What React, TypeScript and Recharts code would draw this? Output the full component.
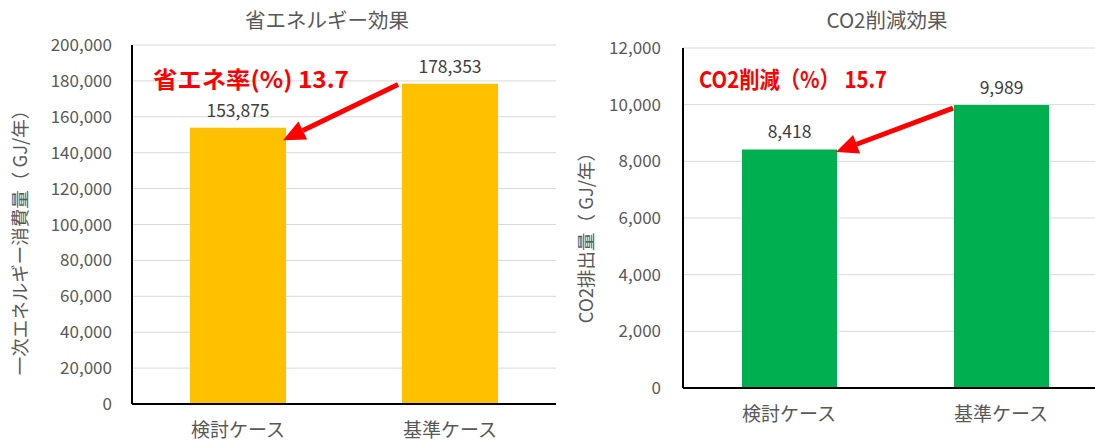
import React from 'react';
import { BarChart, Bar, XAxis, YAxis, CartesianGrid, LabelList, ReferenceLine, ReferenceDot } from 'recharts';

const categories = ['検討ケース', '基準ケース'];
const energyValues = [153875, 178353];
const co2Values = [8418, 9989];
const energyTicks = [0, 20000, 40000, 60000, 80000, 100000, 120000, 140000, 160000, 180000, 200000];
const co2Ticks = [0, 2000, 4000, 6000, 8000, 10000, 12000];
const energyTitle = '省エネルギー効果';
const co2Title = 'CO2削減効果';
const energyAxisLabel = '一次エネルギー消費量（ GJ/年）';
const co2AxisLabel = 'CO2排出量（ GJ/年）';
const energyNote = '省エネ率(%) 13.7';
const co2Note = 'CO2削減（%） 15.7';
const energyNoteAt = 181600;
const co2NoteAt = 10940;
const energyArrow = [178000, 147000];
const co2Arrow = [9880, 8330];

const energyData = categories.map((name, i) => ({ name, value: energyValues[i] }));
const co2Data = categories.map((name, i) => ({ name, value: co2Values[i] }));

const FONT = "'Noto Sans CJK JP', 'Noto Sans', sans-serif";
const GRAY = '#595959';
const fmt = (v: any) => Number(v).toLocaleString('en-US');
const AXIS_LINE = { stroke: '#000000', strokeWidth: 2 };

const arrowShape = (dxStart: number, dxEnd: number) => (p: any) => {
  const x1 = p.x1 + dxStart;
  const y1 = p.y1;
  const x2 = p.x2 + dxEnd;
  const y2 = p.y2;
  const a = Math.atan2(y2 - y1, x2 - x1);
  const headLen = 22;
  const headW = 10;
  const bx = x2 - headLen * Math.cos(a);
  const by = y2 - headLen * Math.sin(a);
  const px = -Math.sin(a) * headW;
  const py = Math.cos(a) * headW;
  return (
    <g>
      <line x1={x1} y1={y1} x2={bx} y2={by} stroke="#FF0000" strokeWidth={5} />
      <polygon points={`${x2},${y2} ${bx + px},${by + py} ${bx - px},${by - py}`} fill="#FF0000" />
    </g>
  );
};

const noteLabel = (text: string, dx: number, len: number) => (props: any) => {
  const vb = props.viewBox || {};
  const cx = (vb.x ?? 0) + (vb.width ?? 0) / 2 + dx;
  const cy = (vb.y ?? 0) + (vb.height ?? 0) / 2;
  return (
    <text
      x={cx - len / 2}
      y={cy}
      dominantBaseline="central"
      fill="#FF0000"
      fontFamily={FONT}
      fontWeight="bold"
      fontSize={23}
      textLength={len}
      lengthAdjust="spacingAndGlyphs"
    >
      {text}
    </text>
  );
};

const axisTitle = (text: string, x: number, cy: number) => () => (
  <text
    x={x}
    y={cy}
    transform={`rotate(-90, ${x}, ${cy})`}
    textAnchor="middle"
    dominantBaseline="central"
    fill={GRAY}
    fontFamily={FONT}
    fontSize={18.5}
  >
    {text}
  </text>
);

const titleStyle = (left: number): React.CSSProperties => ({
  position: 'absolute',
  left,
  top: 5,
  width: 300,
  marginLeft: -150,
  textAlign: 'center',
  fontFamily: FONT,
  fontSize: 20.5,
  lineHeight: '28px',
  color: GRAY,
});

export default function App() {
  return (
    <div style={{ position: 'absolute', left: 0, top: 0, width: 1095, height: 442, overflow: 'hidden', background: '#fff' }}>
      <div style={titleStyle(327)}>{energyTitle}</div>
      <div style={titleStyle(887)}>{co2Title}</div>

      <div style={{ position: 'absolute', left: 0, top: 0 }}>
        <BarChart width={560} height={442} data={energyData} margin={{ top: 45, right: 4, bottom: 0, left: 0 }}>
          <CartesianGrid vertical={false} stroke="#d9d9d9" />
          <XAxis
            dataKey="name"
            height={38}
            tickLine={false}
            tickSize={0}
            tickMargin={20}
            stroke="#000000"
            axisLine={AXIS_LINE}
            tick={{ fill: GRAY, fontSize: 19, fontFamily: FONT }}
          />
          <XAxis xAxisId="top" dataKey="name" orientation="top" height={0} tick={false} tickLine={false} stroke="#000000" axisLine={AXIS_LINE} />
          <YAxis
            width={132}
            domain={[0, 200000]}
            ticks={energyTicks}
            tickFormatter={fmt}
            tickLine={false}
            tickSize={0}
            tickMargin={20}
            stroke="#000000"
            axisLine={AXIS_LINE}
            tick={{ fill: GRAY, fontSize: 17, fontFamily: FONT }}
            label={{ content: axisTitle(energyAxisLabel, 19, 238) }}
          />
          <YAxis yAxisId="right" orientation="right" width={0} domain={[0, 200000]} tick={false} tickLine={false} stroke="#000000" axisLine={AXIS_LINE} />
          <Bar dataKey="value" fill="#FFC000" barSize={96} isAnimationActive={false}>
            <LabelList dataKey="value" position="top" offset={11} formatter={fmt} fill="#404040" fontSize={17.5} fontFamily={FONT} />
          </Bar>
          <ReferenceLine
            segment={[{ x: categories[1], y: energyArrow[0] }, { x: categories[0], y: energyArrow[1] }]}
            shape={arrowShape(-52, 45)}
            ifOverflow="visible"
          />
          <ReferenceDot x={categories[0]} y={energyNoteAt} r={0} fill="none" stroke="none" ifOverflow="visible" label={{ content: noteLabel(energyNote, 13, 196) }} />
        </BarChart>
      </div>

      <div style={{ position: 'absolute', left: 560, top: 0 }}>
        <BarChart width={560} height={442} data={co2Data} margin={{ top: 48, right: 13, bottom: 0, left: 0 }}>
          <CartesianGrid vertical={false} stroke="#d9d9d9" />
          <XAxis
            dataKey="name"
            height={54}
            tickLine={false}
            tickSize={0}
            tickMargin={20}
            stroke="#000000"
            axisLine={AXIS_LINE}
            tick={{ fill: GRAY, fontSize: 19, fontFamily: FONT }}
          />
          <XAxis xAxisId="top" dataKey="name" orientation="top" height={0} tick={false} tickLine={false} stroke="#000000" axisLine={AXIS_LINE} />
          <YAxis
            width={123}
            domain={[0, 12000]}
            ticks={co2Ticks}
            tickFormatter={fmt}
            tickLine={false}
            tickSize={0}
            tickMargin={22}
            stroke="#000000"
            axisLine={AXIS_LINE}
            tick={{ fill: GRAY, fontSize: 17, fontFamily: FONT }}
            label={{ content: axisTitle(co2AxisLabel, 25, 233) }}
          />
          <Bar dataKey="value" fill="#00B050" barSize={95} isAnimationActive={false}>
            <LabelList dataKey="value" position="top" offset={11} formatter={fmt} fill="#404040" fontSize={17.5} fontFamily={FONT} />
          </Bar>
          <ReferenceLine
            segment={[{ x: categories[1], y: co2Arrow[0] }, { x: categories[0], y: co2Arrow[1] }]}
            shape={arrowShape(-48, 47)}
            ifOverflow="visible"
          />
          <ReferenceDot x={categories[0]} y={co2NoteAt} r={0} fill="none" stroke="none" ifOverflow="visible" label={{ content: noteLabel(co2Note, 4, 188) }} />
        </BarChart>
      </div>
    </div>
  );
}
